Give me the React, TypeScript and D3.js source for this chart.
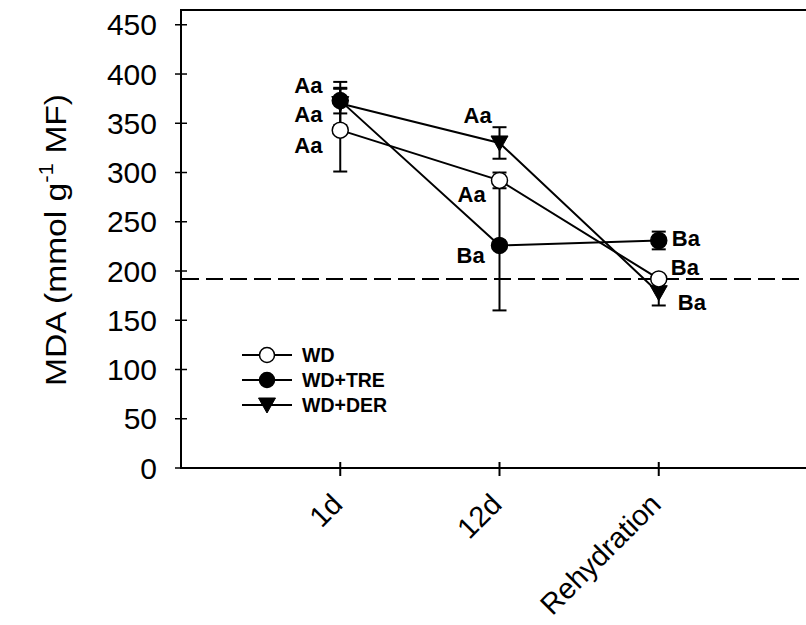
import * as d3 from 'd3';

// data
const categories = ['1d', '12d', 'Rehydration'];
const yTickValues = [0, 50, 100, 150, 200, 250, 300, 350, 400, 450];
const controlLevel = 192;

const seriesNames = ['WD', 'WD+TRE', 'WD+DER'];
const wdMean = [343, 292, 192];
const wdErr = [42, 8, 4];
const treMean = [373, 226, 231];
const treErr = [13, 66, 9];
const derMean = [370, 330, 178];
const derErr = [22, 16, 13];
const wdLetters = ['Aa', 'Aa', 'Ba'];
const treLetters = ['Aa', 'Ba', 'Ba'];
const derLetters = ['Aa', 'Aa', 'Ba'];

// label placement relative to the point (px)
const wdLabelPos = [{ dx: -46, dy: 23 }, { dx: -42, dy: 21.5 }, { dx: 12, dy: -4 }];
const treLabelPos = [{ dx: -46, dy: -7.5 }, { dx: -43, dy: 17.5 }, { dx: 13, dy: 6 }];
const derLabelPos = [{ dx: -46, dy: 18 }, { dx: -36, dy: -20 }, { dx: 19, dy: 17 }];

const W = 806;
const H = 625;
const FONT = 'Arial, "Liberation Sans", Helvetica, sans-serif';

const x = d3.scaleLinear().domain([0, 4]).range([181, 818]);
const y = d3.scaleLinear().domain([0, 465]).range([468, 10]);

const series = [
  { name: seriesNames[2], mean: derMean, err: derErr, letters: derLetters, pos: derLabelPos, marker: 'tri' },
  { name: seriesNames[1], mean: treMean, err: treErr, letters: treLetters, pos: treLabelPos, marker: 'filled' },
  { name: seriesNames[0], mean: wdMean, err: wdErr, letters: wdLetters, pos: wdLabelPos, marker: 'open' },
];

const triPath = 'M-8.5,-7L8.5,-7L0,8Z';

function Marker({ kind, cx, cy, r = 8 }: { kind: string; cx: number; cy: number; r?: number }) {
  if (kind === 'tri') {
    return <path d={triPath} transform={`translate(${cx},${cy})`} fill="#000" stroke="#000" strokeWidth={1} />;
  }
  return (
    <circle cx={cx} cy={cy} r={r} fill={kind === 'open' ? '#fff' : '#000'} stroke="#000" strokeWidth={1.5} />
  );
}

export default function App() {
  const line = d3
    .line<number>()
    .x((_, i) => x(i + 1))
    .y((d) => y(d));

  const legendOrder = [series[2], series[1], series[0]];

  return (
    <svg
      width={W}
      height={H}
      viewBox={`0 0 ${W} ${H}`}
      style={{ position: 'absolute', left: 0, top: 0, background: '#fff' }}
      fontFamily={FONT}
    >
      {/* frame */}
      <line x1={181} x2={181} y1={y(465)} y2={y(0)} stroke="#000" strokeWidth={2} />
      <line x1={180} x2={W} y1={y(0)} y2={y(0)} stroke="#000" strokeWidth={2} />
      <line x1={180} x2={W} y1={y(465)} y2={y(465)} stroke="#000" strokeWidth={2} />

      {/* y axis */}
      {yTickValues.map((t) => (
        <g key={`yt-${t}`} transform={`translate(181,${y(t)})`}>
          <line x1={-6} x2={6} stroke="#000" strokeWidth={1.5} />
          <text x={-24} y={10.5} textAnchor="end" fontSize={30} fill="#000">
            {t}
          </text>
        </g>
      ))}
      <text
        transform={`translate(66,${240}) rotate(-90)`}
        textAnchor="middle"
        fontSize={30}
        fill="#000"
        textLength={292}
        lengthAdjust="spacingAndGlyphs"
      >
        <tspan>MDA (mmol g</tspan>
        <tspan fontSize={20} dy={-13}>-1</tspan>
        <tspan dy={13}> MF)</tspan>
      </text>

      {/* x axis */}
      {categories.map((c, i) => (
        <g key={`xt-${c}`}>
          <line x1={x(i + 1)} x2={x(i + 1)} y1={y(0) - 6} y2={y(0) + 8} stroke="#000" strokeWidth={2} />
          <text
            transform={`translate(${x(i + 1) + 4},506) rotate(-45)`}
            textAnchor="end"
            fontSize={29}
            fill="#000"
          >
            {c}
          </text>
        </g>
      ))}

      {/* control reference */}
      <line
        x1={182}
        x2={W}
        y1={y(controlLevel)}
        y2={y(controlLevel)}
        stroke="#000"
        strokeWidth={2}
        strokeDasharray="17,7"
      />

      {/* series lines */}
      {series.map((s) => (
        <path key={`l-${s.name}`} d={line(s.mean) || ''} fill="none" stroke="#000" strokeWidth={2} />
      ))}

      {/* error bars */}
      {series.map((s) =>
        s.mean.map((m, i) => {
          const cx = x(i + 1);
          const top = y(m + s.err[i]);
          const bot = y(m - s.err[i]);
          return (
            <g key={`e-${s.name}-${i}`} stroke="#000" strokeWidth={2}>
              <line x1={cx} x2={cx} y1={top} y2={bot} />
              <line x1={cx - 7} x2={cx + 7} y1={top} y2={top} />
              <line x1={cx - 7} x2={cx + 7} y1={bot} y2={bot} />
            </g>
          );
        })
      )}

      {/* markers */}
      {series.map((s) =>
        s.mean.map((m, i) => <Marker key={`m-${s.name}-${i}`} kind={s.marker} cx={x(i + 1)} cy={y(m)} />)
      )}

      {/* significance letters */}
      {series.map((s) =>
        s.mean.map((m, i) => (
          <text
            key={`t-${s.name}-${i}`}
            x={x(i + 1) + s.pos[i].dx}
            y={y(m) + s.pos[i].dy}
            fontSize={22}
            fontWeight="bold"
            fill="#000"
          >
            {s.letters[i]}
          </text>
        ))
      )}

      {/* legend */}
      {legendOrder.map((s, i) => {
        const ly = 355 + i * 25;
        return (
          <g key={`lg-${s.name}`}>
            <line x1={242} x2={292} y1={ly} y2={ly} stroke="#000" strokeWidth={2} />
            <Marker kind={s.marker} cx={267} cy={ly} r={7.5} />
            <text x={302} y={ly + 7} fontSize={19.5} fontWeight="bold" fill="#000">
              {s.name}
            </text>
          </g>
        );
      })}
    </svg>
  );
}
